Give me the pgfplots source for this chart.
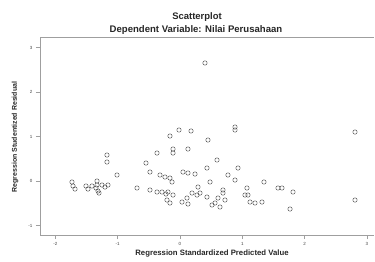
\documentclass[border=0pt]{standalone}
\usepackage{fontspec}
\setmainfont{Liberation Sans}
\usepackage{pgfplots}
\pgfplotsset{compat=1.18}
\begin{document}
\begin{tikzpicture}[x=1bp,y=1bp]
\useasboundingbox (0,0) rectangle (375,262);
\begin{axis}[
 at={(40bp,27bp)}, anchor=south west,
 scale only axis, width=334bp, height=198bp,
 xmin=-2.247, xmax=3.114, ymin=-1.213, ymax=3.236,
 axis x line*=bottom, axis y line*=left,
 axis line style={gray!75, line width=0.7bp},
 xtick={-2,-1,0,1,2,3}, ytick={-1,0,1,2,3},
 tick style={gray!75, line width=0.5bp},
 tick align=outside, major tick length=4bp,
 tick label style={font=\fontsize{4.5}{5}\selectfont, text=black!75},
 /pgf/number format/assume math mode=true,
 clip=false,
]
\draw[gray!75, line width=0.7bp] (rel axis cs:0,1) -- (rel axis cs:1,1);
\addplot[only marks, mark=o, mark size=2.2bp, mark options={draw=black!70, line width=0.45bp}] coordinates {
(-1.734,-0.022) (-1.717,-0.112) (-1.685,-0.180) (-1.509,-0.112) (-1.477,-0.180)
(-1.413,-0.112) (-1.332,0.000) (-1.332,-0.090) (-1.348,-0.157) (-1.316,-0.225)
(-1.252,-0.090) (-1.204,-0.135) (-1.156,-0.090) (-1.172,0.584) (-1.172,0.427)
(-1.011,0.135) (-1.300,-0.270) (-0.690,-0.157) (-0.546,0.404) (-0.482,0.202)
(-0.369,0.629) (-0.321,0.135) (-0.241,0.090) (-0.161,0.067) (-0.482,-0.202)
(-0.369,-0.247) (-0.289,-0.247) (-0.225,-0.292) (-0.193,-0.247) (-0.112,-0.315)
(-0.209,-0.427) (-0.161,-0.494) (-0.128,-0.022) (-0.161,1.011) (-0.016,1.146)
(-0.112,0.719) (-0.112,0.629) (0.128,0.719) (0.048,0.202) (0.128,0.180)
(0.241,0.157) (0.032,-0.472) (0.112,-0.382) (0.128,-0.517) (0.177,1.124)
(0.401,2.652) (0.449,0.921) (0.594,0.472) (0.433,0.292) (0.883,1.213)
(0.883,1.146) (0.931,0.292) (0.770,0.135) (0.883,0.022) (0.482,-0.022)
(0.289,-0.135) (0.193,-0.270) (0.273,-0.315) (0.321,-0.270) (0.433,-0.360)
(0.610,-0.382) (0.690,-0.202) (0.690,-0.270) (0.722,-0.427) (0.514,-0.539)
(0.562,-0.494) (0.642,-0.584) (1.075,-0.157) (1.043,-0.315) (1.091,-0.315)
(1.124,-0.472) (1.204,-0.494) (1.316,-0.472) (1.348,-0.022) (1.573,-0.157)
(1.637,-0.157) (1.814,-0.247) (1.766,-0.629) (2.809,1.101) (2.809,-0.427)
};
\end{axis}
\node[font=\bfseries\fontsize{9.5}{10}\selectfont, text=black!85] at (197,245) {Scatterplot};
\node[font=\bfseries\fontsize{9.6}{10}\selectfont, text=black!85] at (196,232) {Dependent Variable: Nilai Perusahaan};
\node[font=\bfseries\fontsize{7.8}{8}\selectfont, text=black!85] at (212,8) {Regression Standardized Predicted Value};
\node[font=\bfseries\fontsize{7}{8}\selectfont, text=black!85, rotate=90] at (15,125) {Regression Studentized Residual};
\end{tikzpicture}
\end{document}
